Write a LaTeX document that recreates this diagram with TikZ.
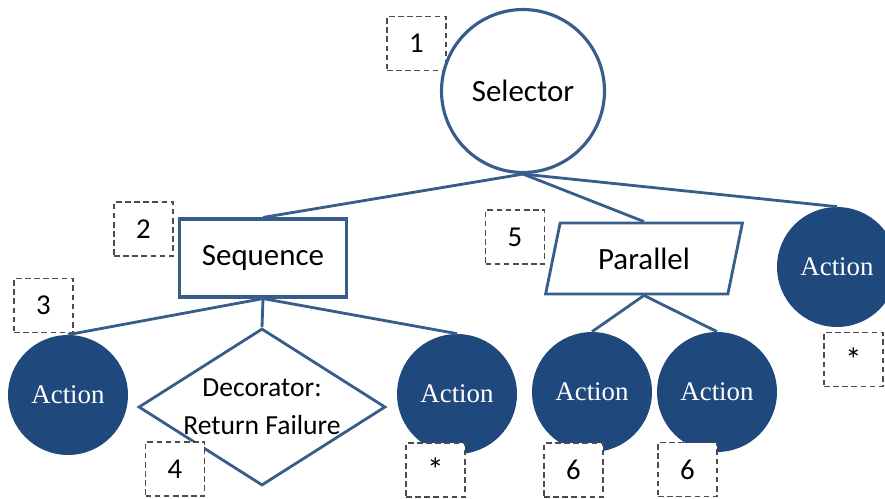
\documentclass[tikz,border=0pt]{standalone}
\usepackage{fontspec}
\setmainfont{Carlito}
\newfontfamily\actfont{Liberation Serif}
\usetikzlibrary{shapes.geometric}
\definecolor{btblue}{HTML}{385D8A}
\definecolor{btfill}{HTML}{1F497D}

\begin{document}
\begin{tikzpicture}[x=0.02cm,y=-0.02cm]
    \tikzset{
      ctrl/.style={
        draw=btblue,
        line width=1.8pt,
        fill=white,
        font=\fontsize{17.6}{20}\selectfont,
      },
      act/.style={
        circle,
        fill=btfill,
        minimum size=2.4cm,
        inner sep=0pt,
        text=white,
        font=\actfont\fontsize{15.3}{18}\selectfont,
      },
      tag/.style={
        draw=black!70,
        dash pattern=on 3.2pt off 2pt,
        line width=0.6pt,
        fill=white,
        minimum width=1.18cm,
        minimum height=1.08cm,
        inner sep=0pt,
        font=\fontsize{16.4}{18}\selectfont,
      },
      star/.style={font=\fontsize{19}{20}\selectfont},
      link/.style={draw=btblue, line width=1.6pt}
    }
    \useasboundingbox (0,0) rectangle (885,498);

    \node[tag] (t1) at (416.5,43.5) {1};

    % control nodes
    \node[ctrl, circle, minimum size=3.26cm, inner sep=0pt] (sel) at (523,91) {Selector};
    \node[ctrl, rectangle, minimum width=3.34cm, minimum height=1.56cm] (seq) at (263,258) {Sequence};
    \node[ctrl, trapezium, trapezium left angle=75, trapezium right angle=105,
          trapezium stretches=true, minimum width=3.96cm, minimum height=1.42cm,
          line width=1.6pt] (par) at (644,258.5) {Parallel};
    \node[ctrl, diamond, aspect=1.57, minimum width=4.94cm, minimum height=3.14cm,
          inner xsep=-4pt, inner ysep=-2pt, line width=1.6pt, align=center,
          font=\fontsize{15.7}{21.5}\selectfont] (dec) at (262,407) {Decorator:\\Return Failure};

    % leaves
    \node[act] (a1) at (68,395) {Action};
    \node[act] (a2) at (457,394) {Action};
    \node[act] (a3) at (592,392) {Action};
    \node[act] (a4) at (717,392) {Action};
    \node[act] (a5) at (837,267) {Action};

    \path[link]
        (sel.south) edge (seq.north)
        (sel.south) edge (par.north)
        (sel.south) edge (a5.north)

        (seq.south) edge (a1.north)
        (seq.south) edge (dec.north)
        (seq.south) edge (a2.north)

        (par.south) edge (a3.north)
        (par.south) edge (a4.north);

    % numbering
    \node[tag] (t2) at (143.5,229) {2};
    \node[tag] (t3) at (43.5,305.5) {3};
    \node[tag] (t4) at (175,469) {4};
    \node[tag] (t5) at (515,237) {5};
    \node[tag] (t6a) at (573.5,470) {6};
    \node[tag] (t6b) at (687.5,469.5) {6};
    \node[tag, star] (s1) at (435.5,470) {*};
    \node[tag, star] (s2) at (853.5,359.5) {*};
\end{tikzpicture}
\end{document}
